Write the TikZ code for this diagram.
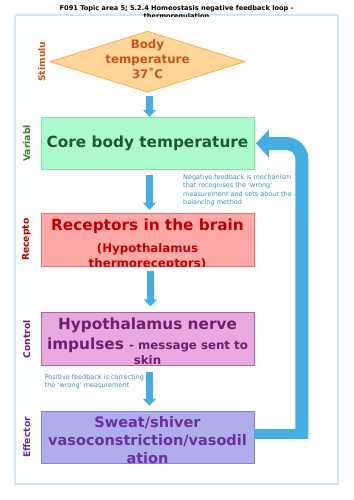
\documentclass[tikz,border=0pt]{standalone}
\usepackage{fontspec}
\setmainfont{DejaVu Sans}
\usepackage{xcolor}
\usetikzlibrary{arrows.meta,positioning,shapes.geometric,calc}

\definecolor{frameblue}{HTML}{C8EAF9}
\definecolor{arrowblue}{HTML}{46ADE0}
\definecolor{noteblue}{HTML}{3D8EBE}
\definecolor{stimfill}{HTML}{FFD699}
\definecolor{stimedge}{HTML}{F7AC4A}
\definecolor{stimtext}{HTML}{C2561A}
\definecolor{corefill}{HTML}{ADFBCC}
\definecolor{coreedge}{HTML}{7DE5A5}
\definecolor{coretext}{HTML}{1D5B2A}
\definecolor{varlabel}{HTML}{3F802D}
\definecolor{recfill}{HTML}{FFA8A8}
\definecolor{recedge}{HTML}{E27474}
\definecolor{rectext}{HTML}{C00000}
\definecolor{ctrlfill}{HTML}{E8A9E0}
\definecolor{ctrledge}{HTML}{AA62AA}
\definecolor{ctrltext}{HTML}{6E1F6E}
\definecolor{efffill}{HTML}{B0AEEA}
\definecolor{effedge}{HTML}{8883D9}
\definecolor{efftext}{HTML}{6B2FA0}

\newcommand{\boxbig}{\fontsize{15.3}{15}\selectfont}
\newcommand{\boxsmall}{\fontsize{11.8}{15}\selectfont}

\begin{document}
\begin{tikzpicture}[
  x=1pt, y=-1pt,
  box/.style={draw, line width=0.8pt, minimum width=213pt, minimum height=52.5pt, inner sep=0pt},
  boxtext/.style={align=center, inner sep=0pt, anchor=north},
  sidelabel/.style={rotate=90, inner sep=0pt, font=\fontsize{9.2}{11}\selectfont\bfseries},
  note/.style={align=left, inner sep=0pt, text=noteblue, font=\fontsize{6.5}{8.3}\selectfont},
  downarrow/.style={draw=arrowblue, line width=7.5pt, -{Triangle[length=7pt,width=13pt]}},
  feedback/.style={draw=arrowblue, line width=13pt, rounded corners=16pt, -{Triangle[length=13pt,width=27pt]}}
]
\useasboundingbox (0,0) rectangle (353,500);
\draw[frameblue, line width=1.2pt] (15,15) rectangle (338,484);
\begin{scope}
  \clip (0,0) rectangle (353,17);
  \node[align=center, inner sep=0pt, anchor=north, font=\fontsize{6.6}{8}\selectfont\bfseries] (title) at (176.5,5.2) {F091 Topic area 5; 5.2.4 Homeostasis negative feedback loop -\\thermoregulation};
\end{scope}

\node[box, fill=corefill, draw=coreedge, text=coretext, font=\boxbig\bfseries] (core) at (147.5,143.5) {Core body temperature};
\node[diamond, draw=stimedge, fill=stimfill, line width=0.8pt, minimum width=195pt, minimum height=61pt, inner sep=0pt, above=24.25pt of core] (stimulus) {};
\node[box, fill=recfill, draw=recedge, below=43pt of core] (receptors) {};
\node[box, fill=ctrlfill, draw=ctrledge, below=46pt of receptors] (control) {};
\node[box, fill=efffill, draw=effedge, below=45pt of control] (effector) {};

\node[boxtext, text=stimtext, font=\fontsize{11.8}{15}\selectfont\bfseries] (stimulustext) at ([yshift=-8.5pt]stimulus.north) {Body\\temperature\\37˚C};
\begin{scope}
  \clip (receptors.south west) rectangle (receptors.north east);
  \node[boxtext, text=rectext, font=\boxbig\bfseries] (receptorstext) at ([yshift=-6pt]receptors.north) {Receptors in the brain\\[7pt]\boxsmall\bfseries (Hypothalamus\\\boxsmall\bfseries thermoreceptors)};
\end{scope}
\begin{scope}
  \clip (control.south west) rectangle (control.north east);
  \node[boxtext, text=ctrltext, font=\boxbig\bfseries] (controltext) at ([yshift=-5pt]control.north) {Hypothalamus nerve\\[4.8pt]impulses \boxsmall\bfseries - message sent to\\\boxsmall\bfseries skin};
\end{scope}
\begin{scope}
  \clip (effector.south west) rectangle (effector.north east);
  \node[boxtext, text=efftext, font=\fontsize{14.5}{18}\selectfont\bfseries] (effectortext) at ([yshift=-6pt]effector.north) {Sweat/shiver\\vasoconstriction/vasodil\\ation};
\end{scope}

\node[sidelabel, text=stimtext] (stimuluslabel) at ([xshift=-8pt]stimulus.west) {Stimulu};
\node[sidelabel, text=varlabel] (corelabel) at ([xshift=-14pt]core.west) {Variabl};
\node[sidelabel, text=rectext!90!black] (receptorslabel) at ([xshift=-14pt]receptors.west) {Recepto};
\node[sidelabel, text=ctrltext] (controllabel) at ([xshift=-14pt]control.west) {Control};
\node[sidelabel, text=efftext] (effectorlabel) at ([xshift=-14pt]effector.west) {Effector};

\node[note, below right=4.3pt and 35.5pt of core.south] (negnote) {Negative feedback is mechanism\\that recognises the ‘wrong’\\measurement and sets about the\\balancing method};
\node[note, below right=8.8pt and 4pt of control.south west] (posnote) {Positive feedback is correcting\\the ‘wrong’ measurement};

\draw[downarrow] ([xshift=2pt,yshift=-3.5pt]stimulus.south) -- ([xshift=2pt]core.north);
\draw[downarrow] ([xshift=2pt,yshift=-5pt]core.south) -- ([xshift=2pt,yshift=3.5pt]receptors.north);
\draw[downarrow] ([xshift=3pt,yshift=-5pt]receptors.south) -- ([xshift=3pt,yshift=6pt]control.north);
\draw[downarrow] ([xshift=2pt,yshift=-6.5pt]control.south) -- ([xshift=2pt,yshift=5pt]effector.north);

\draw[arrowblue, line width=10pt] ([yshift=3.5pt]effector.east) -- ++(54pt,0pt);
\draw[feedback] ([xshift=47.5pt,yshift=-1.5pt]effector.east) |- ([xshift=1.5pt]core.east);
\end{tikzpicture}
\end{document}
